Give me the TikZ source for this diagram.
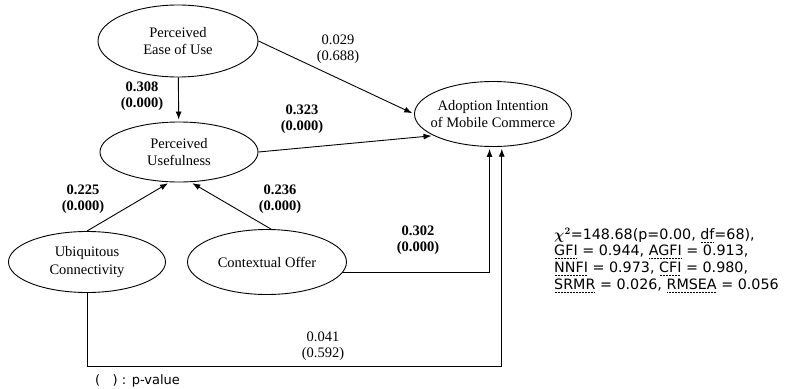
\documentclass[tikz,border=0pt]{standalone}
\usepackage{fontspec}
\setmainfont{Liberation Serif}
\newfontfamily\statfont{DejaVu Sans}
\usetikzlibrary{shapes.geometric,arrows.meta}

% dotted underline for the fit indices
\newcommand{\dotul}[1]{\leavevmode\setbox0\hbox{#1}%
  \rlap{\raisebox{-3pt}{\hbox to \wd0{\leaders\hbox to 1.5pt{\hss\vrule width 0.6pt height 0.6pt\hss}\hfil}}}\box0\relax}

\tikzset{
  latent/.style={draw, ellipse, line width=0.9pt, inner sep=0pt},
  lbl/.style={align=center, font=\fontsize{14.5}{17.5}\selectfont},
  coef/.style={align=center, font=\fontsize{14.5}{16.5}\selectfont},
  bcoef/.style={coef, font=\fontsize{14.5}{16.5}\selectfont\bfseries},
  arr/.style={-{Latex[length=8pt,width=6pt]}, line width=0.9pt, shorten >=2pt}
}

\begin{document}
\begin{tikzpicture}[x=1pt,y=-1pt]
  \useasboundingbox (0,0) rectangle (792,388);
  % Constructs
  \node[latent, minimum width=160pt, minimum height=72pt,
        label={[lbl]center:{Perceived\\Ease of Use}}] (peou) at (178,41) {};
  \node[latent, minimum width=158pt, minimum height=60pt,
        label={[lbl]center:{Perceived\\Usefulness}}] (pu) at (179,152) {};
  \node[latent, minimum width=157pt, minimum height=65pt,
        label={[lbl]center:{Adoption Intention\\of Mobile Commerce}}] (aimc) at (493,114) {};
  \node[latent, minimum width=157pt, minimum height=61pt,
        label={[lbl]center:{Ubiquitous\\Connectivity}}] (uc) at (87,262) {};
  \node[latent, minimum width=159pt, minimum height=65pt,
        label={[lbl]center:{Contextual Offer}}] (co) at (267,262) {};
  \coordinate (ucbend) at (87,366);

  % Paths
  \draw[arr] (peou) -- (pu);
  \draw[arr] (peou.east) -- (aimc.west);
  \draw[arr] (pu.east) -- (aimc.200);
  \draw[arr] (uc.north) -- (pu.253);
  \draw[arr] (co.83) -- (pu.-69);
  \draw[arr] (co.-8) -| (aimc.-96);
  \draw[arr] (uc.south) -- (ucbend) -| (aimc.-75);

  % Coefficients
  \node[coef] (c029) at (338,49) {0.029\\(0.688)};
  \node[bcoef] (c308) at (142,96) {0.308\\(0.000)};
  \node[bcoef] (c323) at (302,119) {0.323\\(0.000)};
  \node[bcoef] (c225) at (83,199) {0.225\\(0.000)};
  \node[bcoef] (c236) at (280,199) {0.236\\(0.000)};
  \node[bcoef] (c302) at (418,240) {0.302\\(0.000)};
  \node[coef] (c041) at (323,346) {0.041\\(0.592)};

  % Fit indices
  \node[anchor=west, align=left, inner sep=0pt,
        font=\statfont\fontsize{14.3}{16.7}\selectfont] (fit) at (554,260)
    {{\boldmath$\chi^2$}=148.68(p=0.00, \dotul{df}=68),\\
     \dotul{GFI} = 0.944, \dotul{AGFI} = 0.913,\\
     \dotul{NNFI} = 0.973, \dotul{CFI} = 0.980,\\
     \dotul{SRMR} = 0.026, \dotul{RMSEA} = 0.056};
  \node[anchor=west, inner sep=0pt, font=\statfont\fontsize{13}{15}\selectfont]
    (note) at (95,381) {(\ \ \ ) : p-value};
\end{tikzpicture}
\end{document}
